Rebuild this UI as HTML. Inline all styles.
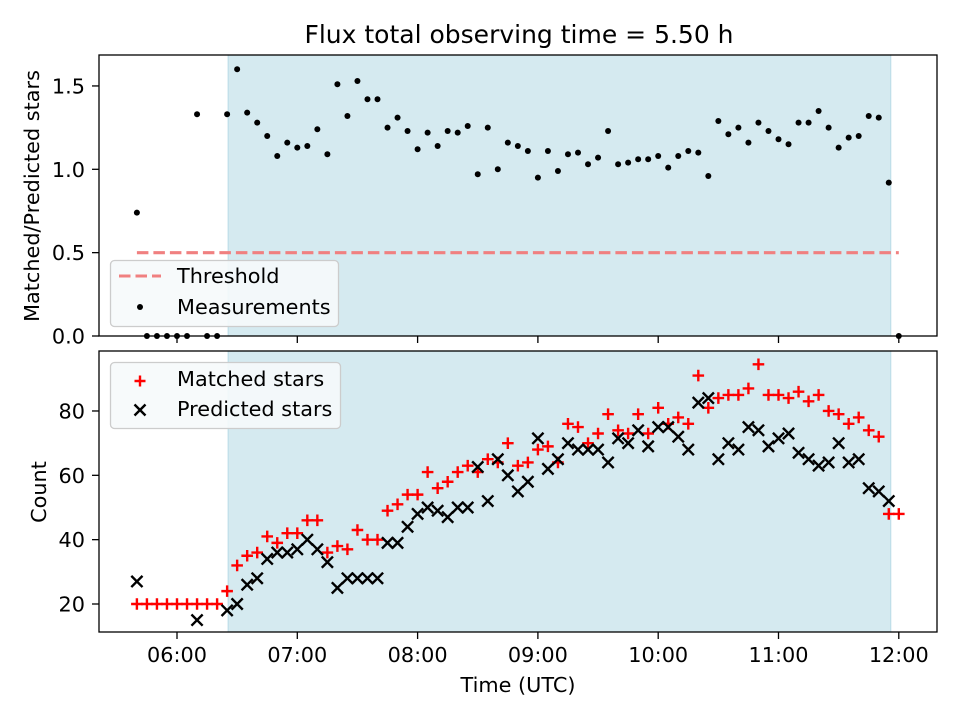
<!DOCTYPE html>
<html><head><meta charset="utf-8"><style>
body{margin:0;background:#fff}
svg{display:block;font-family:"DejaVu Sans","Liberation Sans",sans-serif}
</style></head><body>
<svg id="chart" width="960" height="720" xmlns="http://www.w3.org/2000/svg"></svg>
<script>
const times=["05:40","05:45","05:50","05:55","06:00","06:05","06:10","06:15","06:20","06:25","06:30","06:35","06:40","06:45","06:50","06:55","07:00","07:05","07:10","07:15","07:20","07:25","07:30","07:35","07:40","07:45","07:50","07:55","08:00","08:05","08:10","08:15","08:20","08:25","08:30","08:35","08:40","08:45","08:50","08:55","09:00","09:05","09:10","09:15","09:20","09:25","09:30","09:35","09:40","09:45","09:50","09:55","10:00","10:05","10:10","10:15","10:20","10:25","10:30","10:35","10:40","10:45","10:50","10:55","11:00","11:05","11:10","11:15","11:20","11:25","11:30","11:35","11:40","11:45","11:50","11:55","12:00"];
const ratio=[0.74,0,0,0,0,0,1.33,0,0,1.33,1.60,1.34,1.28,1.20,1.08,1.16,1.13,1.14,1.24,1.09,1.51,1.32,1.53,1.42,1.42,1.25,1.31,1.23,1.12,1.22,1.14,1.23,1.22,1.26,0.97,1.25,1.00,1.16,1.14,1.11,0.95,1.11,0.99,1.09,1.10,1.03,1.07,1.23,1.03,1.04,1.06,1.06,1.08,1.01,1.08,1.11,1.10,0.96,1.29,1.21,1.25,1.16,1.28,1.23,1.18,1.15,1.28,1.28,1.35,1.25,1.13,1.19,1.20,1.32,1.31,0.92,0];
const matched=[20,20,20,20,20,20,20,20,20,24,32,35,36,41,39,42,42,46,46,36,38,37,43,40,40,49,51,54,54,61,56,58,61,63,61,65,64,70,63,64,68,69,64,76,75,70,73,79,74,73,79,73,81,76,78,76,91,81,84,85,85,87,94.5,85,85,84,86,83,85,80,79,76,78,74,72,48,48];
const predicted=[27,null,null,null,null,null,15,null,null,18,20,26,28,34,36,36,37,40,37,33,25,28,28,28,28,39,39,44,48,50,49,47,50,50,62.6,52,65,60,55,58,71.5,62,65,70,68,68,68,64,71.5,70,74,69,75,75,72,68,82.6,84,65,70,68,75,74,69,71.5,73,67,65,63,64,70,64,65,56,55,52,null];
const xTickLabels=["06:00","07:00","08:00","09:00","10:00","11:00","12:00"];
const topYTicks=[0.0,0.5,1.0,1.5];
const botYTicks=[20,40,60,80];
const threshold=[0.5];
const obsWindow=["06:25","11:55"];

const NS="http://www.w3.org/2000/svg";
const svg=document.getElementById('chart');
function mk(tag,attrs,parent){const e=document.createElementNS(NS,tag);for(const k in attrs)e.setAttribute(k,attrs[k]);(parent||svg).appendChild(e);return e;}
function mins(t){const p=t.split(':');return (+p[0])*60+(+p[1]);}
const L=99,R=937,T1=55,B1=336,T2=351,B2=632;
const FS=20.8;
function X(t){return 177+(mins(t)-360)*120.3/60;}
function Y1(v){return 336-v*166.7;}
function Y2(v){return 604-(v-20)*3.217;}

let t=mk('text',{x:519,y:43,'text-anchor':'middle','font-size':25,fill:'#000'});
t.textContent='Flux total observing time = 5.50 h';



function panel(top,bot,name){
  const g=mk('g',{});
  
  
  mk('rect',{x:L,y:top,width:R-L,height:bot-top,fill:'#fff'},g);
  const x0=X(obsWindow[0])+1,x1=X(obsWindow[1])+2;
  const sh=mk('rect',{x:x0,y:top,width:x1-x0,height:bot-top,fill:'#d5eaf0',stroke:'#b9dbe6','stroke-width':1},g);
  
  
  return g;
}
const gTop=panel(T1,B1,'ratio-panel');
const gBot=panel(T2,B2,'count-panel');

const th=mk('line',{x1:X(times[0]),x2:X(times[times.length-1]),y1:Y1(threshold[0]),y2:Y1(threshold[0]),stroke:'#f08080','stroke-width':3.1,'stroke-dasharray':'11.5,5'},gTop);



ratio.forEach((v,i)=>{
  if(v===null)return;
  const c=mk('circle',{cx:X(times[i]),cy:Y1(v),r:3,fill:'#000'},gTop);
  
  
});
matched.forEach((v,i)=>{
  if(v===null)return;
  const x=X(times[i]),y=Y2(v),s=5.8;
  const p=mk('path',{d:`M${x-s},${y}H${x+s}M${x},${y-s}V${y+s}`,stroke:'#f00','stroke-width':2.4,fill:'none'},gBot);
  
  
});
predicted.forEach((v,i)=>{
  if(v===null)return;
  const x=X(times[i]),y=Y2(v),s=5.6;
  const p=mk('path',{d:`M${x-s},${y-s}L${x+s},${y+s}M${x-s},${y+s}L${x+s},${y-s}`,stroke:'#000','stroke-width':2.4,fill:'none'},gBot);
  
  
});

function frame(top,bot,g){
  mk('rect',{x:L,y:top,width:R-L,height:bot-top,fill:'none',stroke:'#000','stroke-width':1.3},g);
}
frame(T1,B1,gTop);frame(T2,B2,gBot);
xTickLabels.forEach(lbl=>{
  const x=X(lbl);
  mk('line',{x1:x,x2:x,y1:B1,y2:B1+7,stroke:'#000','stroke-width':1.3},gTop);
  mk('line',{x1:x,x2:x,y1:B2,y2:B2+7,stroke:'#000','stroke-width':1.3},gBot);
  const tx=mk('text',{x:x,y:B2+30,'text-anchor':'middle','font-size':FS},gBot);
  tx.textContent=lbl;
  
  
});
topYTicks.forEach(v=>{
  const y=Y1(v);
  mk('line',{x1:L-7,x2:L,y1:y,y2:y,stroke:'#000','stroke-width':1.3},gTop);
  const tx=mk('text',{x:L-14,y:y+7.5,'text-anchor':'end','font-size':FS},gTop);
  tx.textContent=v.toFixed(1);
  
  
});
botYTicks.forEach(v=>{
  const y=Y2(v);
  mk('line',{x1:L-7,x2:L,y1:y,y2:y,stroke:'#000','stroke-width':1.3},gBot);
  const tx=mk('text',{x:L-14,y:y+7.5,'text-anchor':'end','font-size':FS},gBot);
  tx.textContent=String(v);
  
  
});
let a=mk('text',{x:518,y:692,'text-anchor':'middle','font-size':FS});
a.textContent='Time (UTC)';


a=mk('text',{x:39,y:196,'text-anchor':'middle','font-size':FS,transform:'rotate(-90 39 196)'});
a.textContent='Matched/Predicted stars';


a=mk('text',{x:46,y:492,'text-anchor':'middle','font-size':FS,transform:'rotate(-90 46 492)'});
a.textContent='Count';



const lg1=mk('g',{});


mk('rect',{x:110.5,y:260.5,width:228,height:66,rx:4,fill:'#f6f9fb','fill-opacity':0.9,stroke:'#ccc','stroke-width':1.3},lg1);
mk('line',{x1:119,x2:161,y1:276,y2:276,stroke:'#f08080','stroke-width':3.1,'stroke-dasharray':'11.5,5'},lg1);
mk('circle',{cx:140,cy:307,r:3,fill:'#000'},lg1);
let lt=mk('text',{x:177,y:283,'font-size':FS},lg1);lt.textContent='Threshold';


lt=mk('text',{x:177,y:314,'font-size':FS},lg1);lt.textContent='Measurements';



const lg2=mk('g',{});


mk('rect',{x:110.5,y:362.5,width:230,height:66,rx:4,fill:'#f6f9fb','fill-opacity':0.9,stroke:'#ccc','stroke-width':1.3},lg2);
mk('path',{d:'M134.5,381H145.5M140,375.5V386.5',stroke:'#f00','stroke-width':2.4},lg2);
mk('path',{d:'M134.5,404.5L145.5,415.5M134.5,415.5L145.5,404.5',stroke:'#000','stroke-width':2.4},lg2);
lt=mk('text',{x:177,y:386,'font-size':FS},lg2);lt.textContent='Matched stars';


lt=mk('text',{x:177,y:416,'font-size':FS},lg2);lt.textContent='Predicted stars';


</script>
</body></html>
